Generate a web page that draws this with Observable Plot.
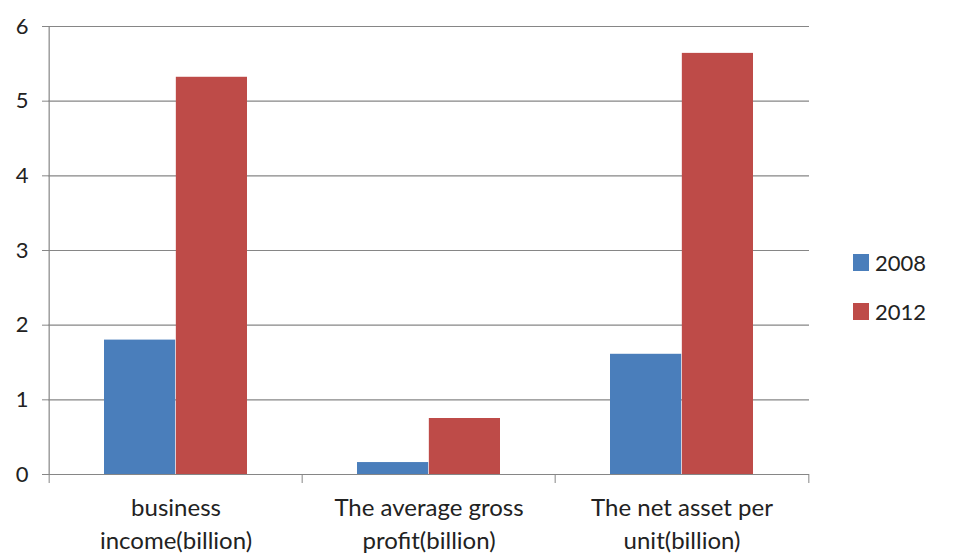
<!DOCTYPE html>
<html>
<head>
<meta charset="utf-8">
<script src="https://cdn.jsdelivr.net/npm/d3@7"></script>
<script src="https://cdn.jsdelivr.net/npm/@observablehq/plot@0.6"></script>
<style>
  html, body { margin: 0; padding: 0; background: #fff; }
  #wrap { position: relative; width: 953px; height: 557px; font-family: Lato, "Open Sans", sans-serif; }
  #legend { position: absolute; left: 853px; top: 249px; font-size: 22px; color: #222; }
  .item { display: flex; align-items: center; height: 26px; margin-bottom: 23px; }
  .sw { width: 16px; height: 17px; margin-right: 6px; }
</style>
</head>
<body>
<div id="wrap"><div id="legend"></div></div>
<script>
const categories = ["business\nincome(billion)", "The average gross\nprofit(billion)", "The net asset per\nunit(billion)"];
const years = ["2008", "2012"];
const values2008 = [1.80, 0.16, 1.61];
const values2012 = [5.32, 0.75, 5.64];
const yTicks = [0, 1, 2, 3, 4, 5, 6];
const colors = ["#4A7EBB", "#BE4B48"];

const rows2008 = categories.map((c, i) => ({category: c, year: "2008", value: values2008[i]}));
const rows2012 = categories.map((c, i) => ({category: c, year: "2012", value: values2012[i]}));

const width = 953, height = 557;
const margin = {top: 26, right: 144, bottom: 83, left: 48};
const half = (width - margin.left - margin.right) / categories.length / 2;
const grid = "#868686";

const chart = Plot.plot({
  width, height,
  marginTop: margin.top, marginRight: margin.right, marginBottom: margin.bottom, marginLeft: margin.left,
  style: {fontFamily: "Lato, 'Open Sans', sans-serif", background: "#fff", color: "#222"},
  x: {type: "band", domain: categories, padding: 0},
  y: {domain: [0, 6]},
  color: {domain: years, range: colors},
  marks: [
    Plot.ruleY(yTicks.slice(1), {stroke: grid, strokeWidth: 1.2}),
    Plot.barY(rows2008, {x: "category", y: "value", fill: "year", insetLeft: 55, insetRight: half}),
    Plot.barY(rows2012, {x: "category", y: "value", fill: "year", insetLeft: half, insetRight: 55}),
    Plot.ruleY([0], {stroke: grid, strokeWidth: 1.2}),
    Plot.ruleX([categories[0]], {y1: 0, y2: 6, dx: -half, stroke: grid, strokeWidth: 1.2}),
    Plot.axisY({ticks: yTicks, tickFormat: "d", tickSize: 6, tickPadding: 14, stroke: grid, fontSize: 22, fill: "#222", label: null}),
    Plot.axisX({tickSize: 9, dx: -half, tickFormat: () => "", stroke: grid, label: null}),
    Plot.axisX({ticks: [categories[2]], tickSize: 9, dx: half, tickFormat: () => "", stroke: grid, label: null}),
    Plot.axisX({tickSize: 0, tickPadding: 18, fontSize: 24, lineHeight: 1.375, fill: "#222", label: null})
  ]
});
const wrap = document.getElementById("wrap");
wrap.insertBefore(chart, wrap.firstChild);

const legend = document.getElementById("legend");
years.forEach((y, i) => {
  const item = document.createElement("div");
  item.className = "item";
  item.innerHTML = `<div class="sw" style="background:${colors[i]}"></div><span>${y}</span>`;
  legend.appendChild(item);
});
</script>
</body>
</html>
